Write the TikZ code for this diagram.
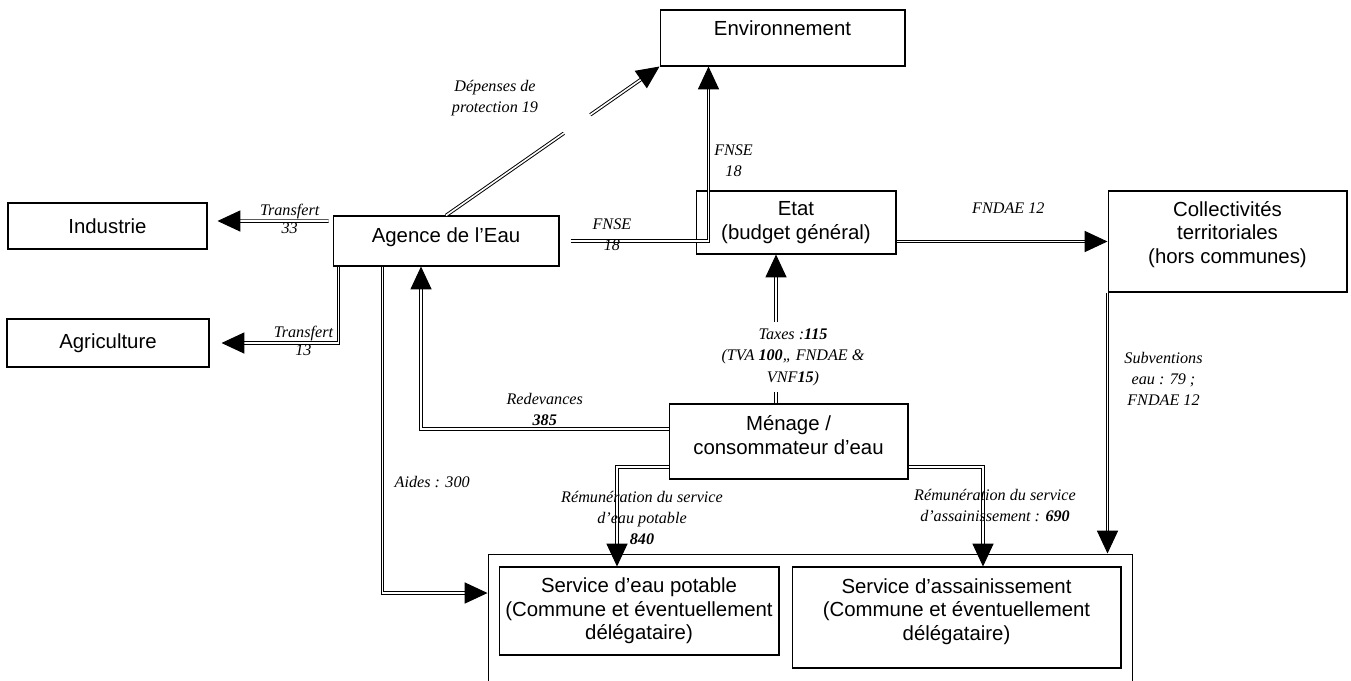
\documentclass[tikz,border=0pt]{standalone}
\usepackage{fontspec}
\setmainfont{Liberation Serif}
\newfontfamily\boxfont{Liberation Sans}
\usetikzlibrary{arrows.meta,calc}

\begin{document}
\begin{tikzpicture}[x=0.02cm,y=-0.02cm,
		box/.style={draw, line width=0.6pt, align=center, inner sep=2pt,
			font=\boxfont\fontsize{11.6}{13.4}\selectfont},
		pipe/.style={double, double distance=0.9pt, line width=0.55pt},
		flow/.style={pipe, -{Triangle[length=13pt,width=12pt,fill=black]}},
		lbl/.style={font=\itshape\fontsize{9.2}{12}\selectfont, align=center, inner sep=1pt}]

		\clip (0,0) rectangle (1351,680);

		% boxes
		\node[box, minimum width=4.9cm, minimum height=1.12cm, text height=8.3pt, text depth=11.3pt] (envir) at (782.5,38) {Environnement};
		\node[box, minimum width=4cm, minimum height=1.26cm] (etat) at (796,222.5) {Etat\\(budget général)};
		\node[box, minimum width=4.52cm, minimum height=1cm, text height=8.3pt, text depth=6.8pt] (agence) at (446,241) {Agence de l’Eau};
		\node[box, minimum width=3.98cm, minimum height=0.92cm] (industrie) at (107.5,226) {Industrie};
		\node[box, minimum width=4.04cm, minimum height=0.96cm] (agriculture) at (108,343) {Agriculture};
		\node[box, minimum width=4.78cm, minimum height=2.02cm] (coll) at (1227.5,241.5) {Collectivités\\territoriales\\(hors communes)\\[-3pt]\mbox{}};
		\node[box, minimum width=4.78cm, minimum height=1.5cm] (menage) at (788.5,441.5) {Ménage /\\consommateur d’eau\\[-6pt]\mbox{}};
		\node[box, minimum width=12.9cm, minimum height=2.92cm] (services) at (810.5,627) {};
		\node[box, minimum width=5.6cm, minimum height=1.76cm] (potable) at (639,611) {Service d’eau potable\\(Commune et éventuellement\\délégataire)};
		\node[box, minimum width=6.58cm, minimum height=2.02cm] (assain) at (956.5,617.5) {Service d’assainissement\\(Commune et éventuellement\\délégataire)\\[-4pt]\mbox{}};

		% transferts
		\draw[flow] ([xshift=-0.08cm,yshift=0.4cm]agence.west) -- ([xshift=0.2cm,yshift=0.1cm]industrie.east)
			node[lbl, pos=0.35, above] {Transfert} node[lbl, pos=0.35, below] {33};
		\draw[flow] ([xshift=0.12cm]agence.south west) |- ([xshift=0.24cm]agriculture.east)
			node[lbl, pos=0.65, above] {Transfert} node[lbl, pos=0.65, below] {13};

		% protection
		\coordinate (gapa) at ($(agence.north)!0.552!(envir.south west)$);
		\coordinate (gapb) at ($(agence.north)!0.676!(envir.south west)$);
		\draw[pipe] (agence.north) -- (gapa);
		\draw[flow] (gapb) -- (envir.south west);
		\node[lbl] (depenses) at (495,98) {Dépenses de\\protection 19};

		\draw[flow] ([xshift=0.22cm]agence.east) -| ([xshift=0.98cm]envir.south west)
			node[lbl, pos=0.15, yshift=0.13cm] {FNSE\\18}
			node[lbl, pos=0.73, right=2pt] {FNSE\\18};
		\draw[flow] (etat.east |- coll.west) -- (coll.west)
			node[lbl, pos=0.53, yshift=0.66cm] {FNDAE 12};

		% menage
		\coordinate (taxtop) at ([xshift=-0.4cm]etat.south);
		\draw[flow] (menage.north -| taxtop) -- (taxtop)
			node[lbl, pos=0.31, xshift=0.34cm, fill=white, inner ysep=4pt] {Taxes :\textbf{115}\\(TVA \textbf{100},, FNDAE \&\\VNF\textbf{15})};
		\draw[flow] ([yshift=0.25cm]menage.west) -| ([xshift=-0.5cm]agence.south)
			node[lbl, pos=0.25, yshift=0.4cm] {Redevances\\\textbf{385}};
		\draw[flow] ([xshift=1cm]agence.south west) |- ([yshift=0.68cm]services.west)
			node[lbl, pos=0.33, anchor=west, xshift=0.2cm] {Aides : 300};
		\draw[flow] ([yshift=-0.51cm]menage.west) -| ([xshift=-0.44cm]potable.north)
			node[lbl, pos=0.755, xshift=0.5cm] {Rémunération du service\\d’eau potable\\\textbf{840}};
		\draw[flow] ([yshift=-0.51cm]menage.east) -| ([xshift=0.53cm]assain.north)
			node[lbl, pos=0.695, xshift=0.24cm] {Rémunération du service\\d’assainissement : \textbf{690}};
		\draw[flow] (coll.south west) -- (coll.south west |- services.north)
			node[lbl, pos=0.33, xshift=1.12cm] {Subventions\\eau : 79 ;\\FNDAE 12};
	\end{tikzpicture}
\end{document}
